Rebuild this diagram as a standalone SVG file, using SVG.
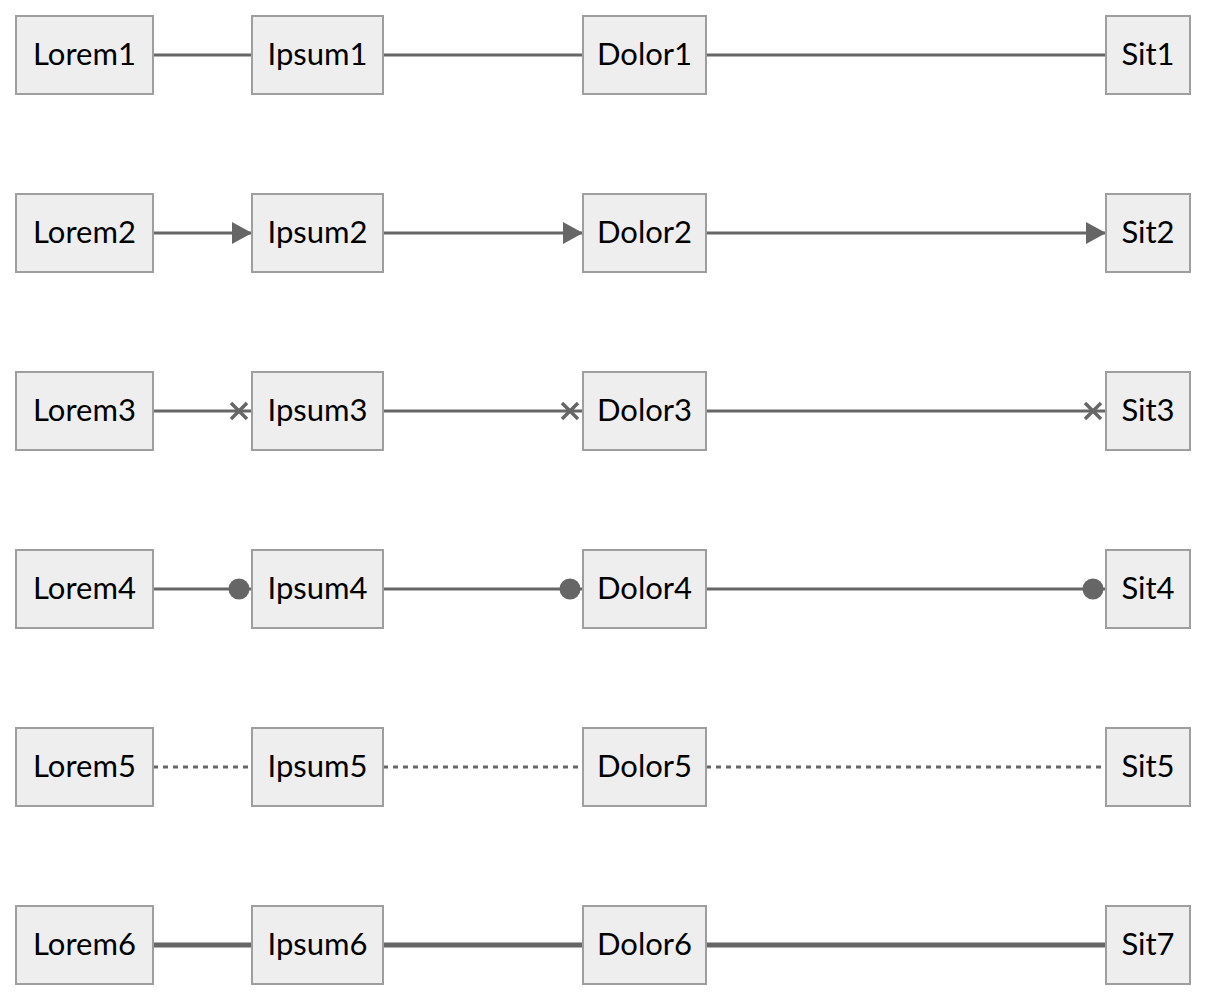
<svg xmlns="http://www.w3.org/2000/svg" width="1206" height="1000" viewBox="0 0 1206 1000">
<style>
.node rect{fill:#eeeeee;stroke:#9e9e9e;stroke-width:2}
.node text{font-family:Lato,"Liberation Sans",sans-serif;font-size:31px;fill:#000;text-anchor:middle}
.e{stroke:#666;stroke-width:3;fill:none}
.thick{stroke-width:5}
.dot{stroke-dasharray:5 5}
</style>
<defs>
<marker id="arrow" markerUnits="userSpaceOnUse" viewBox="0 0 20 22" refX="20" refY="11" markerWidth="20" markerHeight="22" orient="auto"><path d="M0,0 L20,11 L0,22 z" fill="#666"/></marker>
<marker id="cross" markerUnits="userSpaceOnUse" viewBox="0 0 30 22" refX="24" refY="11" markerWidth="30" markerHeight="22" orient="auto" overflow="visible"><path d="M3,3 L19,19 M19,3 L3,19" stroke="#666" stroke-width="3.5" fill="none"/></marker>
<marker id="circle" markerUnits="userSpaceOnUse" viewBox="0 0 30 22" refX="24" refY="11" markerWidth="30" markerHeight="22" orient="auto" overflow="visible"><circle cx="11" cy="11" r="10.5" fill="#666"/></marker>
</defs>
<g id="edges">
<line class="e" x1="153" y1="55" x2="252" y2="55"/>
<line class="e" x1="383" y1="55" x2="583" y2="55"/>
<line class="e" x1="706" y1="55" x2="1106" y2="55"/>
<line class="e" x1="153" y1="233" x2="252" y2="233" marker-end="url(#arrow)"/>
<line class="e" x1="383" y1="233" x2="583" y2="233" marker-end="url(#arrow)"/>
<line class="e" x1="706" y1="233" x2="1106" y2="233" marker-end="url(#arrow)"/>
<line class="e" x1="153" y1="411" x2="252" y2="411" marker-end="url(#cross)"/>
<line class="e" x1="383" y1="411" x2="583" y2="411" marker-end="url(#cross)"/>
<line class="e" x1="706" y1="411" x2="1106" y2="411" marker-end="url(#cross)"/>
<line class="e" x1="153" y1="589" x2="252" y2="589" marker-end="url(#circle)"/>
<line class="e" x1="383" y1="589" x2="583" y2="589" marker-end="url(#circle)"/>
<line class="e" x1="706" y1="589" x2="1106" y2="589" marker-end="url(#circle)"/>
<line class="e dot" x1="153" y1="767" x2="252" y2="767"/>
<line class="e dot" x1="383" y1="767" x2="583" y2="767"/>
<line class="e dot" x1="706" y1="767" x2="1106" y2="767"/>
<line class="e thick" x1="153" y1="945" x2="252" y2="945"/>
<line class="e thick" x1="383" y1="945" x2="583" y2="945"/>
<line class="e thick" x1="706" y1="945" x2="1106" y2="945"/>
</g>
<g id="Lorem1" class="node"><rect x="16" y="16" width="137" height="78"/><text x="84.5" y="65">Lorem1</text></g>
<g id="Ipsum1" class="node"><rect x="252" y="16" width="131" height="78"/><text x="317.5" y="65">Ipsum1</text></g>
<g id="Dolor1" class="node"><rect x="583" y="16" width="123" height="78"/><text x="644.5" y="65">Dolor1</text></g>
<g id="Sit1" class="node"><rect x="1106" y="16" width="84" height="78"/><text x="1148" y="65">Sit1</text></g>
<g id="Lorem2" class="node"><rect x="16" y="194" width="137" height="78"/><text x="84.5" y="243">Lorem2</text></g>
<g id="Ipsum2" class="node"><rect x="252" y="194" width="131" height="78"/><text x="317.5" y="243">Ipsum2</text></g>
<g id="Dolor2" class="node"><rect x="583" y="194" width="123" height="78"/><text x="644.5" y="243">Dolor2</text></g>
<g id="Sit2" class="node"><rect x="1106" y="194" width="84" height="78"/><text x="1148" y="243">Sit2</text></g>
<g id="Lorem3" class="node"><rect x="16" y="372" width="137" height="78"/><text x="84.5" y="421">Lorem3</text></g>
<g id="Ipsum3" class="node"><rect x="252" y="372" width="131" height="78"/><text x="317.5" y="421">Ipsum3</text></g>
<g id="Dolor3" class="node"><rect x="583" y="372" width="123" height="78"/><text x="644.5" y="421">Dolor3</text></g>
<g id="Sit3" class="node"><rect x="1106" y="372" width="84" height="78"/><text x="1148" y="421">Sit3</text></g>
<g id="Lorem4" class="node"><rect x="16" y="550" width="137" height="78"/><text x="84.5" y="599">Lorem4</text></g>
<g id="Ipsum4" class="node"><rect x="252" y="550" width="131" height="78"/><text x="317.5" y="599">Ipsum4</text></g>
<g id="Dolor4" class="node"><rect x="583" y="550" width="123" height="78"/><text x="644.5" y="599">Dolor4</text></g>
<g id="Sit4" class="node"><rect x="1106" y="550" width="84" height="78"/><text x="1148" y="599">Sit4</text></g>
<g id="Lorem5" class="node"><rect x="16" y="728" width="137" height="78"/><text x="84.5" y="777">Lorem5</text></g>
<g id="Ipsum5" class="node"><rect x="252" y="728" width="131" height="78"/><text x="317.5" y="777">Ipsum5</text></g>
<g id="Dolor5" class="node"><rect x="583" y="728" width="123" height="78"/><text x="644.5" y="777">Dolor5</text></g>
<g id="Sit5" class="node"><rect x="1106" y="728" width="84" height="78"/><text x="1148" y="777">Sit5</text></g>
<g id="Lorem6" class="node"><rect x="16" y="906" width="137" height="78"/><text x="84.5" y="955">Lorem6</text></g>
<g id="Ipsum6" class="node"><rect x="252" y="906" width="131" height="78"/><text x="317.5" y="955">Ipsum6</text></g>
<g id="Dolor6" class="node"><rect x="583" y="906" width="123" height="78"/><text x="644.5" y="955">Dolor6</text></g>
<g id="Sit7" class="node"><rect x="1106" y="906" width="84" height="78"/><text x="1148" y="955">Sit7</text></g>
</svg>
